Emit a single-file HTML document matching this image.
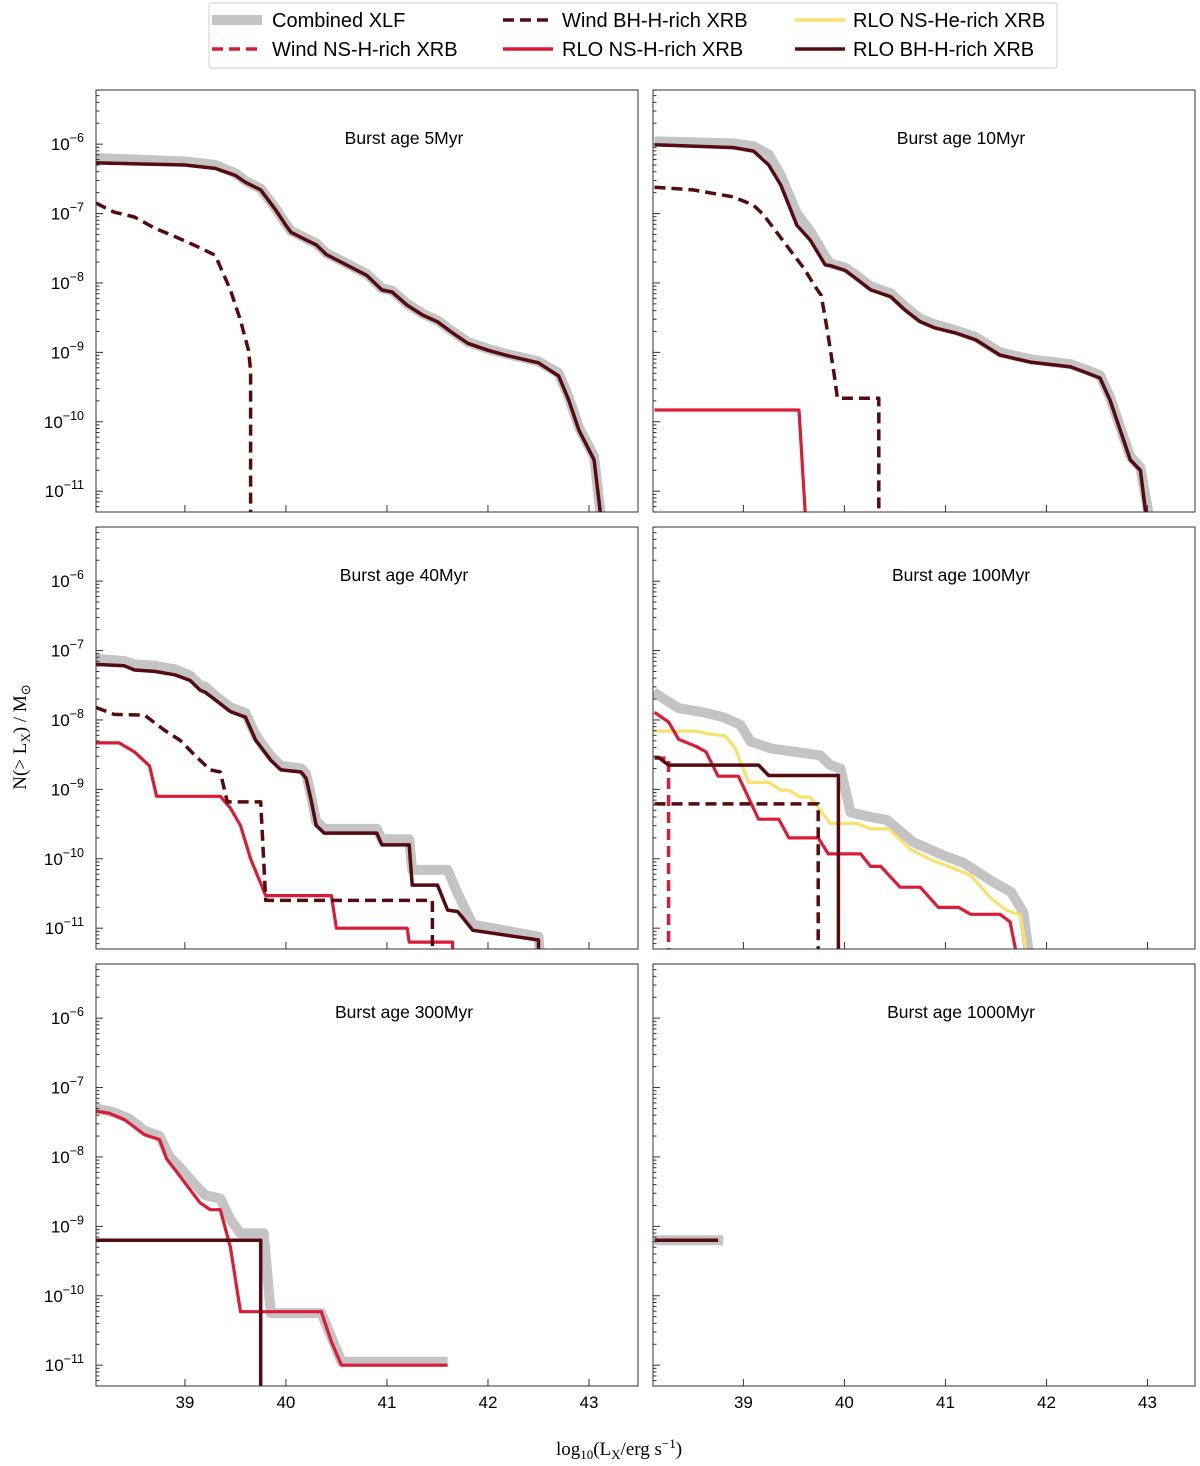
<!DOCTYPE html>
<html><head><meta charset="utf-8"><style>
body{margin:0;background:#fff;}
svg{display:block;font-family:"Liberation Sans",sans-serif;}
</style></head><body>
<svg id="fig" width="1200" height="1466" viewBox="0 0 1200 1466" xmlns="http://www.w3.org/2000/svg">
<g>
<rect x="209" y="3" width="848" height="65" rx="3" fill="#fff" stroke="#ccc" stroke-width="1"/>
<g><line x1="212" y1="20" x2="262" y2="20" stroke="#c4c4c4" stroke-width="10"/><text x="272" y="27" font-size="20">Combined XLF</text></g>
<g><line x1="212" y1="49" x2="262" y2="49" stroke="#dc1c36" stroke-width="3.5" stroke-dasharray="11,6"/><text x="272" y="56" font-size="20">Wind NS-H-rich XRB</text></g>
<g><line x1="503" y1="20" x2="553" y2="20" stroke="#560b0e" stroke-width="3.5" stroke-dasharray="11,6"/><text x="562" y="27" font-size="20">Wind BH-H-rich XRB</text></g>
<g><line x1="503" y1="49" x2="553" y2="49" stroke="#dc1c36" stroke-width="3.5"/><text x="562" y="56" font-size="20">RLO NS-H-rich XRB</text></g>
<g><line x1="795" y1="20" x2="845" y2="20" stroke="#f8e16c" stroke-width="3.5"/><text x="853" y="27" font-size="20">RLO NS-He-rich XRB</text></g>
<g><line x1="795" y1="49" x2="845" y2="49" stroke="#560b0e" stroke-width="3.5"/><text x="853" y="56" font-size="20">RLO BH-H-rich XRB</text></g>
</g>
<text x="26" y="737" font-size="19" font-family="Liberation Serif,serif" text-anchor="middle" transform="rotate(-90 26 737)">N(&gt; L<tspan font-size="13" dy="4">X</tspan><tspan dy="-4">) / M</tspan><tspan font-size="13" dy="4">⊙</tspan></text>
<text x="619" y="1455" font-size="19" font-family="Liberation Serif,serif" text-anchor="middle">log<tspan font-size="13" dy="4">10</tspan><tspan dy="-4">(L</tspan><tspan font-size="13" dy="4">X</tspan><tspan dy="-4">/erg s</tspan><tspan font-size="13" dy="-7">−1</tspan><tspan dy="7">)</tspan></text>
</svg>
<script>
// ---- data (x = log10 Lx, y = log10 N) ----
const xTicks=[39,40,41,42,43];
const yTicks=[-6,-7,-8,-9,-10,-11];
const titles=["Burst age 5Myr","Burst age 10Myr","Burst age 40Myr","Burst age 100Myr","Burst age 300Myr","Burst age 1000Myr"];
// 5 Myr
const p1_comb_x=[38.12,39,39.3,39.5,39.6,39.75,39.9,40,40.05,40.2,40.3,40.4,40.6,40.8,40.85,40.95,41.05,41.2,41.35,41.5,41.65,41.8,42,42.2,42.35,42.5,42.7,42.8,42.9,43.05,43.12];
const p1_comb_y=[-6.2,-6.25,-6.3,-6.42,-6.53,-6.64,-6.93,-7.15,-7.25,-7.36,-7.43,-7.57,-7.72,-7.87,-7.94,-8.08,-8.11,-8.3,-8.44,-8.54,-8.7,-8.85,-8.95,-9.03,-9.08,-9.13,-9.3,-9.65,-10.08,-10.5,-11.4];
const p1_bh_x=[38.12,39,39.3,39.5,39.6,39.75,39.9,40,40.05,40.2,40.3,40.4,40.6,40.8,40.85,40.95,41.05,41.2,41.35,41.5,41.65,41.8,42,42.2,42.35,42.5,42.7,42.8,42.9,43.05,43.12];
const p1_bh_y=[-6.27,-6.3,-6.35,-6.45,-6.55,-6.66,-6.95,-7.17,-7.27,-7.38,-7.45,-7.59,-7.74,-7.89,-7.96,-8.1,-8.13,-8.32,-8.46,-8.56,-8.72,-8.87,-8.97,-9.05,-9.1,-9.15,-9.34,-9.69,-10.12,-10.55,-11.4];
const p1_wbh_x=[38.12,38.3,38.5,38.7,38.9,39.1,39.3,39.45,39.55,39.63,39.65,39.65];
const p1_wbh_y=[-6.85,-6.98,-7.05,-7.21,-7.33,-7.46,-7.6,-8.1,-8.54,-8.97,-9.26,-11.5];
// 10 Myr
const p2_comb_x=[38.12,38.9,39.1,39.25,39.37,39.53,39.66,39.81,39.86,40.01,40.11,40.26,40.46,40.6,40.75,40.9,41.1,41.3,41.54,41.84,42.24,42.39,42.53,42.63,42.73,42.83,42.93,43.02];
const p2_comb_y=[-5.96,-5.99,-6.03,-6.15,-6.45,-7.0,-7.25,-7.62,-7.72,-7.78,-7.88,-8.05,-8.15,-8.34,-8.51,-8.6,-8.68,-8.78,-9.0,-9.1,-9.17,-9.25,-9.33,-9.65,-10.08,-10.5,-10.66,-11.4];
const p2_bh_x=[38.12,38.9,39.1,39.25,39.37,39.53,39.66,39.81,39.86,40.01,40.11,40.26,40.46,40.6,40.75,40.9,41.1,41.3,41.54,41.84,42.24,42.39,42.53,42.63,42.73,42.83,42.93,42.99];
const p2_bh_y=[-6.01,-6.05,-6.1,-6.3,-6.59,-7.17,-7.38,-7.74,-7.75,-7.82,-7.93,-8.1,-8.2,-8.39,-8.56,-8.65,-8.72,-8.82,-9.04,-9.14,-9.21,-9.29,-9.37,-9.69,-10.12,-10.55,-10.7,-11.4];
const p2_wbh_x=[38.12,38.5,38.9,39.1,39.2,39.35,39.5,39.6,39.7,39.77,39.83,39.9,39.93,40.34,40.34];
const p2_wbh_y=[-6.62,-6.66,-6.76,-6.88,-7.02,-7.31,-7.6,-7.79,-8.03,-8.18,-8.68,-9.33,-9.66,-9.66,-11.5];
const p2_rns_x=[38.12,39.55,39.62];
const p2_rns_y=[-9.83,-9.83,-11.5];
// 40 Myr
const p3_comb_x=[38.12,38.4,38.5,38.7,38.9,39.05,39.15,39.2,39.3,39.45,39.6,39.7,39.85,39.95,40.15,40.2,40.25,40.3,40.38,40.9,40.95,41.22,41.25,41.6,41.7,41.85,42.5,42.52];
const p3_comb_y=[-7.12,-7.15,-7.2,-7.22,-7.27,-7.36,-7.5,-7.52,-7.65,-7.82,-7.9,-8.22,-8.52,-8.66,-8.7,-8.78,-9.1,-9.46,-9.57,-9.57,-9.72,-9.72,-10.16,-10.16,-10.5,-10.95,-11.12,-11.5];
const p3_bh_x=[38.12,38.4,38.5,38.7,38.9,39.05,39.15,39.2,39.3,39.45,39.6,39.7,39.85,39.95,40.15,40.2,40.25,40.3,40.38,40.9,40.95,41.22,41.25,41.5,41.6,41.7,41.85,42.5,42.5];
const p3_bh_y=[-7.2,-7.22,-7.28,-7.3,-7.35,-7.43,-7.57,-7.6,-7.71,-7.88,-7.96,-8.29,-8.58,-8.72,-8.75,-8.84,-9.16,-9.52,-9.63,-9.63,-9.8,-9.8,-10.38,-10.38,-10.74,-10.76,-11.03,-11.17,-11.5];
const p3_wbh_x=[38.12,38.3,38.6,38.8,38.95,39.1,39.25,39.35,39.42,39.75,39.8,41.45,41.45];
const p3_wbh_y=[-7.82,-7.92,-7.93,-8.15,-8.29,-8.51,-8.72,-8.75,-9.18,-9.18,-10.6,-10.6,-11.5];
const p3_rns_x=[38.12,38.35,38.5,38.65,38.72,39.35,39.45,39.55,39.65,39.8,40.45,40.5,41.2,41.22,41.65,41.65];
const p3_rns_y=[-8.33,-8.33,-8.46,-8.66,-9.1,-9.1,-9.27,-9.52,-10.0,-10.53,-10.53,-11.0,-11.0,-11.2,-11.2,-11.5];
// 100 Myr
const p4_comb_x=[38.11,38.36,38.6,38.8,38.97,39.07,39.27,39.52,39.76,39.86,39.96,40.06,40.26,40.42,40.68,40.98,41.18,41.48,41.65,41.77,41.84];
const p4_comb_y=[-7.6,-7.83,-7.89,-7.96,-8.07,-8.31,-8.41,-8.46,-8.51,-8.65,-8.7,-9.33,-9.4,-9.44,-9.76,-9.95,-10.06,-10.34,-10.48,-10.77,-11.5];
const p4_he_x=[38.12,38.53,38.65,38.82,38.92,39.05,39.25,39.37,39.45,39.56,39.66,39.86,40.12,40.26,40.44,40.65,40.85,41.03,41.25,41.45,41.6,41.74,41.82];
const p4_he_y=[-8.16,-8.16,-8.2,-8.23,-8.41,-8.9,-8.9,-9.01,-9.01,-9.11,-9.11,-9.49,-9.49,-9.57,-9.57,-9.86,-10.01,-10.11,-10.24,-10.57,-10.74,-10.81,-11.5];
const p4_rns_x=[38.12,38.26,38.36,38.53,38.63,38.75,38.95,39.15,39.35,39.45,39.74,39.84,40.16,40.26,40.36,40.55,40.75,40.93,41.13,41.25,41.54,41.64,41.72];
const p4_rns_y=[-7.89,-8.03,-8.28,-8.38,-8.46,-8.81,-8.81,-9.43,-9.43,-9.7,-9.7,-9.93,-9.93,-10.11,-10.11,-10.41,-10.41,-10.7,-10.7,-10.8,-10.8,-10.91,-11.5];
const p4_bh_x=[38.12,38.16,38.26,39.15,39.25,39.94,39.94];
const p4_bh_y=[-8.54,-8.54,-8.65,-8.65,-8.8,-8.8,-11.5];
const p4_wbh_x=[38.12,39.74,39.74];
const p4_wbh_y=[-9.21,-9.21,-11.5];
const p4_wns_x=[38.12,38.26,38.26];
const p4_wns_y=[-8.55,-8.55,-11.5];
// 300 Myr
const p5_comb_x=[38.12,38.3,38.45,38.6,38.75,38.85,38.95,39.1,39.2,39.35,39.45,39.55,39.78,39.85,40.35,40.45,40.55,41.6];
const p5_comb_y=[-7.3,-7.36,-7.45,-7.62,-7.7,-8.0,-8.15,-8.4,-8.55,-8.6,-8.9,-9.1,-9.1,-10.25,-10.25,-10.6,-10.95,-10.95];
const p5_rns_x=[38.12,38.25,38.4,38.6,38.75,38.82,38.9,39.05,39.15,39.25,39.35,39.45,39.55,40.35,40.45,40.55,41.6];
const p5_rns_y=[-7.34,-7.37,-7.46,-7.68,-7.75,-8.03,-8.18,-8.47,-8.66,-8.76,-8.76,-9.3,-10.23,-10.23,-10.66,-11.0,-11.0];
const p5_bh_x=[38.12,39.75,39.75];
const p5_bh_y=[-9.2,-9.2,-11.5];
// 1000 Myr
const p6_comb_x=[38.12,38.8];
const p6_comb_y=[-9.2,-9.2];
const p6_bh_x=[38.12,38.75];
const p6_bh_y=[-9.2,-9.2];

const NS="http://www.w3.org/2000/svg";
const svg=document.getElementById('fig');
const panels=[
 {x0:96,dx:0,y0:90,series:[["comb",p1_comb_x,p1_comb_y],["wbh",p1_wbh_x,p1_wbh_y],["bh",p1_bh_x,p1_bh_y]]},
 {x0:653,dx:1.5,y0:90,series:[["comb",p2_comb_x,p2_comb_y],["rns",p2_rns_x,p2_rns_y],["wbh",p2_wbh_x,p2_wbh_y],["bh",p2_bh_x,p2_bh_y]]},
 {x0:96,dx:0,y0:527,series:[["comb",p3_comb_x,p3_comb_y],["rns",p3_rns_x,p3_rns_y],["wbh",p3_wbh_x,p3_wbh_y],["bh",p3_bh_x,p3_bh_y]]},
 {x0:653,dx:1.5,y0:527,series:[["comb",p4_comb_x,p4_comb_y],["he",p4_he_x,p4_he_y],["rns",p4_rns_x,p4_rns_y],["wns",p4_wns_x,p4_wns_y],["wbh",p4_wbh_x,p4_wbh_y],["bh",p4_bh_x,p4_bh_y]]},
 {x0:96,dx:0,y0:964,series:[["comb",p5_comb_x,p5_comb_y],["rns",p5_rns_x,p5_rns_y],["bh",p5_bh_x,p5_bh_y]]},
 {x0:653,dx:1.5,y0:964,series:[["comb",p6_comb_x,p6_comb_y],["bh",p6_bh_x,p6_bh_y]]}
];
const styles={comb:["#c4c4c4",10,null],wbh:["#560b0e",3.5,"11,6"],bh:["#560b0e",3.5,null],rns:["#dc1c36",3.2,null],wns:["#dc1c36",3.5,"11,6"],he:["#f8e16c",3.2,null]};
const W=542,H=422,XMIN=38.12,XMAX=43.485,YMAX=-5.22,YMIN=-11.3;
function mk(tag,attrs){const e=document.createElementNS(NS,tag);for(const k in attrs)e.setAttribute(k,attrs[k]);return e;}
panels.forEach((p,i)=>{
 const sx=v=>p.x0+p.dx+(v-XMIN)/(XMAX-XMIN)*W;
 const sy=v=>p.y0+(YMAX-v)/(YMAX-YMIN)*H;
 const g=mk('g',{});
 
 
 svg.appendChild(g);
 const cp=mk('clipPath',{id:'c'+i});cp.appendChild(mk('rect',{x:p.x0,y:p.y0,width:W,height:H}));g.appendChild(cp);
 const dg=mk('g',{'clip-path':'url(#c'+i+')'});g.appendChild(dg);
 p.series.forEach(s=>{
  const st=styles[s[0]];
  const pts=s[1].map((x,k)=>sx(x).toFixed(1)+','+sy(s[2][k]).toFixed(1)).join(' ');
  const pl=mk('polyline',{points:pts,fill:'none',stroke:st[0],'stroke-width':st[1],'stroke-linejoin':'round'});
  if(st[2])pl.setAttribute('stroke-dasharray',st[2]);
  
  
  dg.appendChild(pl);
 });
 const fr=mk('rect',{x:p.x0,y:p.y0,width:W,height:H,fill:'none',stroke:'#333','stroke-width':1});
 
 
 g.appendChild(fr);
 const t=mk('text',{x:p.x0+308,y:p.y0+54,'font-size':17.5,'text-anchor':'middle'});t.textContent=titles[i];
 
 
 g.appendChild(t);
 xTicks.forEach(v=>{
  const X=sx(v);g.appendChild(mk('line',{x1:X,x2:X,y1:p.y0+H,y2:p.y0+H-7,stroke:'#333','stroke-width':1}));
  if(i>=4){const tl=mk('text',{x:X,y:p.y0+H+22,'font-size':17,'text-anchor':'middle'});tl.textContent=v;
   
   
   g.appendChild(tl);}
 });
 for(let d=-12;d<=-5;d++){for(let m=1;m<10;m++){const v=d+Math.log10(m);if(v>YMAX||v<YMIN)continue;const Y=sy(v);
  g.appendChild(mk('line',{x1:p.x0,x2:p.x0+(m===1?7:3.5),y1:Y,y2:Y,stroke:'#333','stroke-width':1}));}}
 if(p.x0<200)yTicks.forEach(v=>{
  const tl=mk('text',{x:p.x0-12,y:sy(v)+6,'font-size':17,'text-anchor':'end'});
  tl.innerHTML='10<tspan font-size="12.5" dy="-8">−'+(-v)+'</tspan>';
  
  
  g.appendChild(tl);
 });
});
</script>
</body></html>
